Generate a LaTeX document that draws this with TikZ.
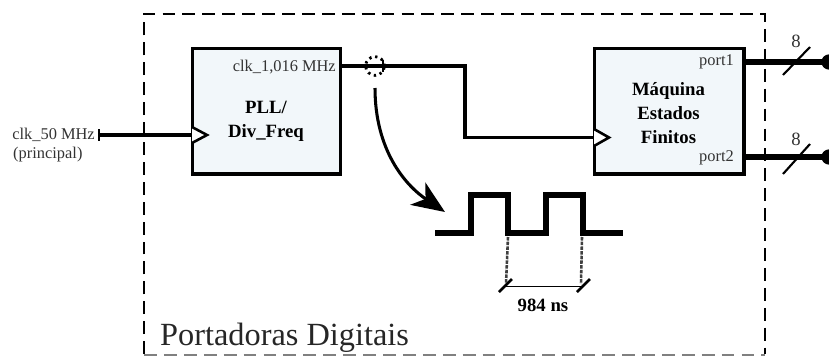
\documentclass[tikz,border=0pt]{standalone}
\usepackage{fontspec}
\setmainfont{Liberation Serif}
\usetikzlibrary{arrows.meta}
\definecolor{blockfill}{HTML}{F2F7FA}
\definecolor{labelgray}{HTML}{333333}
\tikzset{
  blockbox/.style={draw, line width=2.6pt, fill=blockfill, inner sep=0pt},
  pinlabel/.style={inner sep=0pt, text=labelgray, font=\fontsize{14}{16}\selectfont},
  blocklabel/.style={inner sep=0pt, align=center, font=\fontsize{16}{20.5}\selectfont\bfseries},
  clkwire/.style={line width=3pt},
  buswire/.style={line width=5.5pt},
  wavewire/.style={line width=5.5pt, line join=miter},
}
\begin{document}
\begin{tikzpicture}[x=0.03cm, y=-0.03cm, >=stealth]
  \useasboundingbox (0,0) rectangle (829,356);
  % outer dashed frame
  \draw[line width=2.4pt, dash pattern=on 11pt off 6pt] (144,354) -- (144,14) -- (765,14) -- (765,354);
  \draw[line width=1.5pt, black!50, dash pattern=on 11pt off 6pt] (144,355) -- (765,355);
  \node[anchor=base west, inner sep=0pt, font=\fontsize{27.6}{30}\selectfont, text=black!85] (title) at (160,345) {Portadoras Digitais};
  % blocks
  \node[blockbox, minimum width=127pt, minimum height=107.5pt] (pll) at (266.5,111) {};
  \node[blockbox, minimum width=128pt, minimum height=107.5pt] (fsm) at (669,111) {};
  \node[blocklabel] (plltext) at (266,121) {PLL/\\Div\_Freq};
  \node[blocklabel] (fsmtext) at (668.5,113) {Máquina\\Estados\\Finitos};
  \node[pinlabel, anchor=east] (pllout) at (336,67) {clk\_1,016 MHz};
  \node[pinlabel, anchor=east] (port1) at (734,62) {port1};
  \node[pinlabel, anchor=east] (port2) at (734,158) {port2};
  % clock input
  \coordinate (clkin) at (99,135);
  \node[pinlabel, anchor=east] (clkname) at (95,135) {clk\_50 MHz};
  \node[pinlabel, anchor=west] (clknote) at (13,155) {(principal)};
  \draw[clkwire] (clkin) -- (clkin -| pll.west);
  \draw[line width=2pt] (99,129) -- (99,141);
  \draw[line width=2.2pt, fill=white] (192,127) -- (207,135) -- (192,143);
  % clock between blocks
  \coordinate (bend1) at (465,66);
  \coordinate (bend2) at (465,137.5);
  \draw[clkwire, line join=miter] (bend1 -| pll.east) -- (bend1) -- (bend2) -- (bend2 -| fsm.west);
  \draw[line width=2.2pt, fill=white] (594,129) -- (609,137.5) -- (594,146);
  % probe on the wire
  \node[circle, draw, line width=2.4pt, dash pattern=on 2pt off 3.2pt, minimum size=16pt, inner sep=0pt] (probe) at (375,66) {};
  \draw[line width=2pt] (383,60) -- (383,72);
  \coordinate (probeend) at (375,88);
  \coordinate (waveend) at (445,212);
  \draw[line width=2.6pt, -{Stealth[length=28pt, width=23pt, inset=8pt]}] (probeend) .. controls (375,150) and (405,185) .. (waveend);
  % output buses
  \coordinate (busend1) at (829,62);
  \coordinate (busend2) at (829,157);
  \draw[buswire] (fsm.east |- busend1) -- (busend1);
  \draw[buswire] (fsm.east |- busend2) -- (busend2);
  \fill (busend1) circle (6.5pt);
  \fill (busend2) circle (6.5pt);
  \draw[line width=1.8pt] (783,75) -- (810,47);
  \draw[line width=1.8pt] (783,174) -- (810,144);
  \node[pinlabel, text=black!80, font=\fontsize{16}{18}\selectfont] (width1) at (796,41) {8};
  \node[pinlabel, text=black!80, font=\fontsize{16}{18}\selectfont] (width2) at (796,139) {8};
  % waveform
  \draw[wavewire] (435,233) -- (471,233) -- (471,195) -- (508,195) -- (508,233) -- (546,233) -- (546,195) -- (583,195) -- (583,233) -- (623,233);
  % period mark
  \coordinate (dimleft) at (505,286.5);
  \coordinate (dimright) at (582,286.5);
  \draw[line width=2.2pt, black!75, dash pattern=on 3pt off 1pt] (508,237) -- (506,284);
  \draw[line width=2.2pt, black!75, dash pattern=on 3pt off 1pt] (582,237) -- (581,284);
  \draw[line width=1.6pt] (dimleft) -- (dimright);
  \draw[line width=2.2pt] (499,292) -- (512,279);
  \draw[line width=2.2pt] (577,292) -- (590,279);
  \node[blocklabel] (period) at (543,305) {984 ns};
\end{tikzpicture}
\end{document}
